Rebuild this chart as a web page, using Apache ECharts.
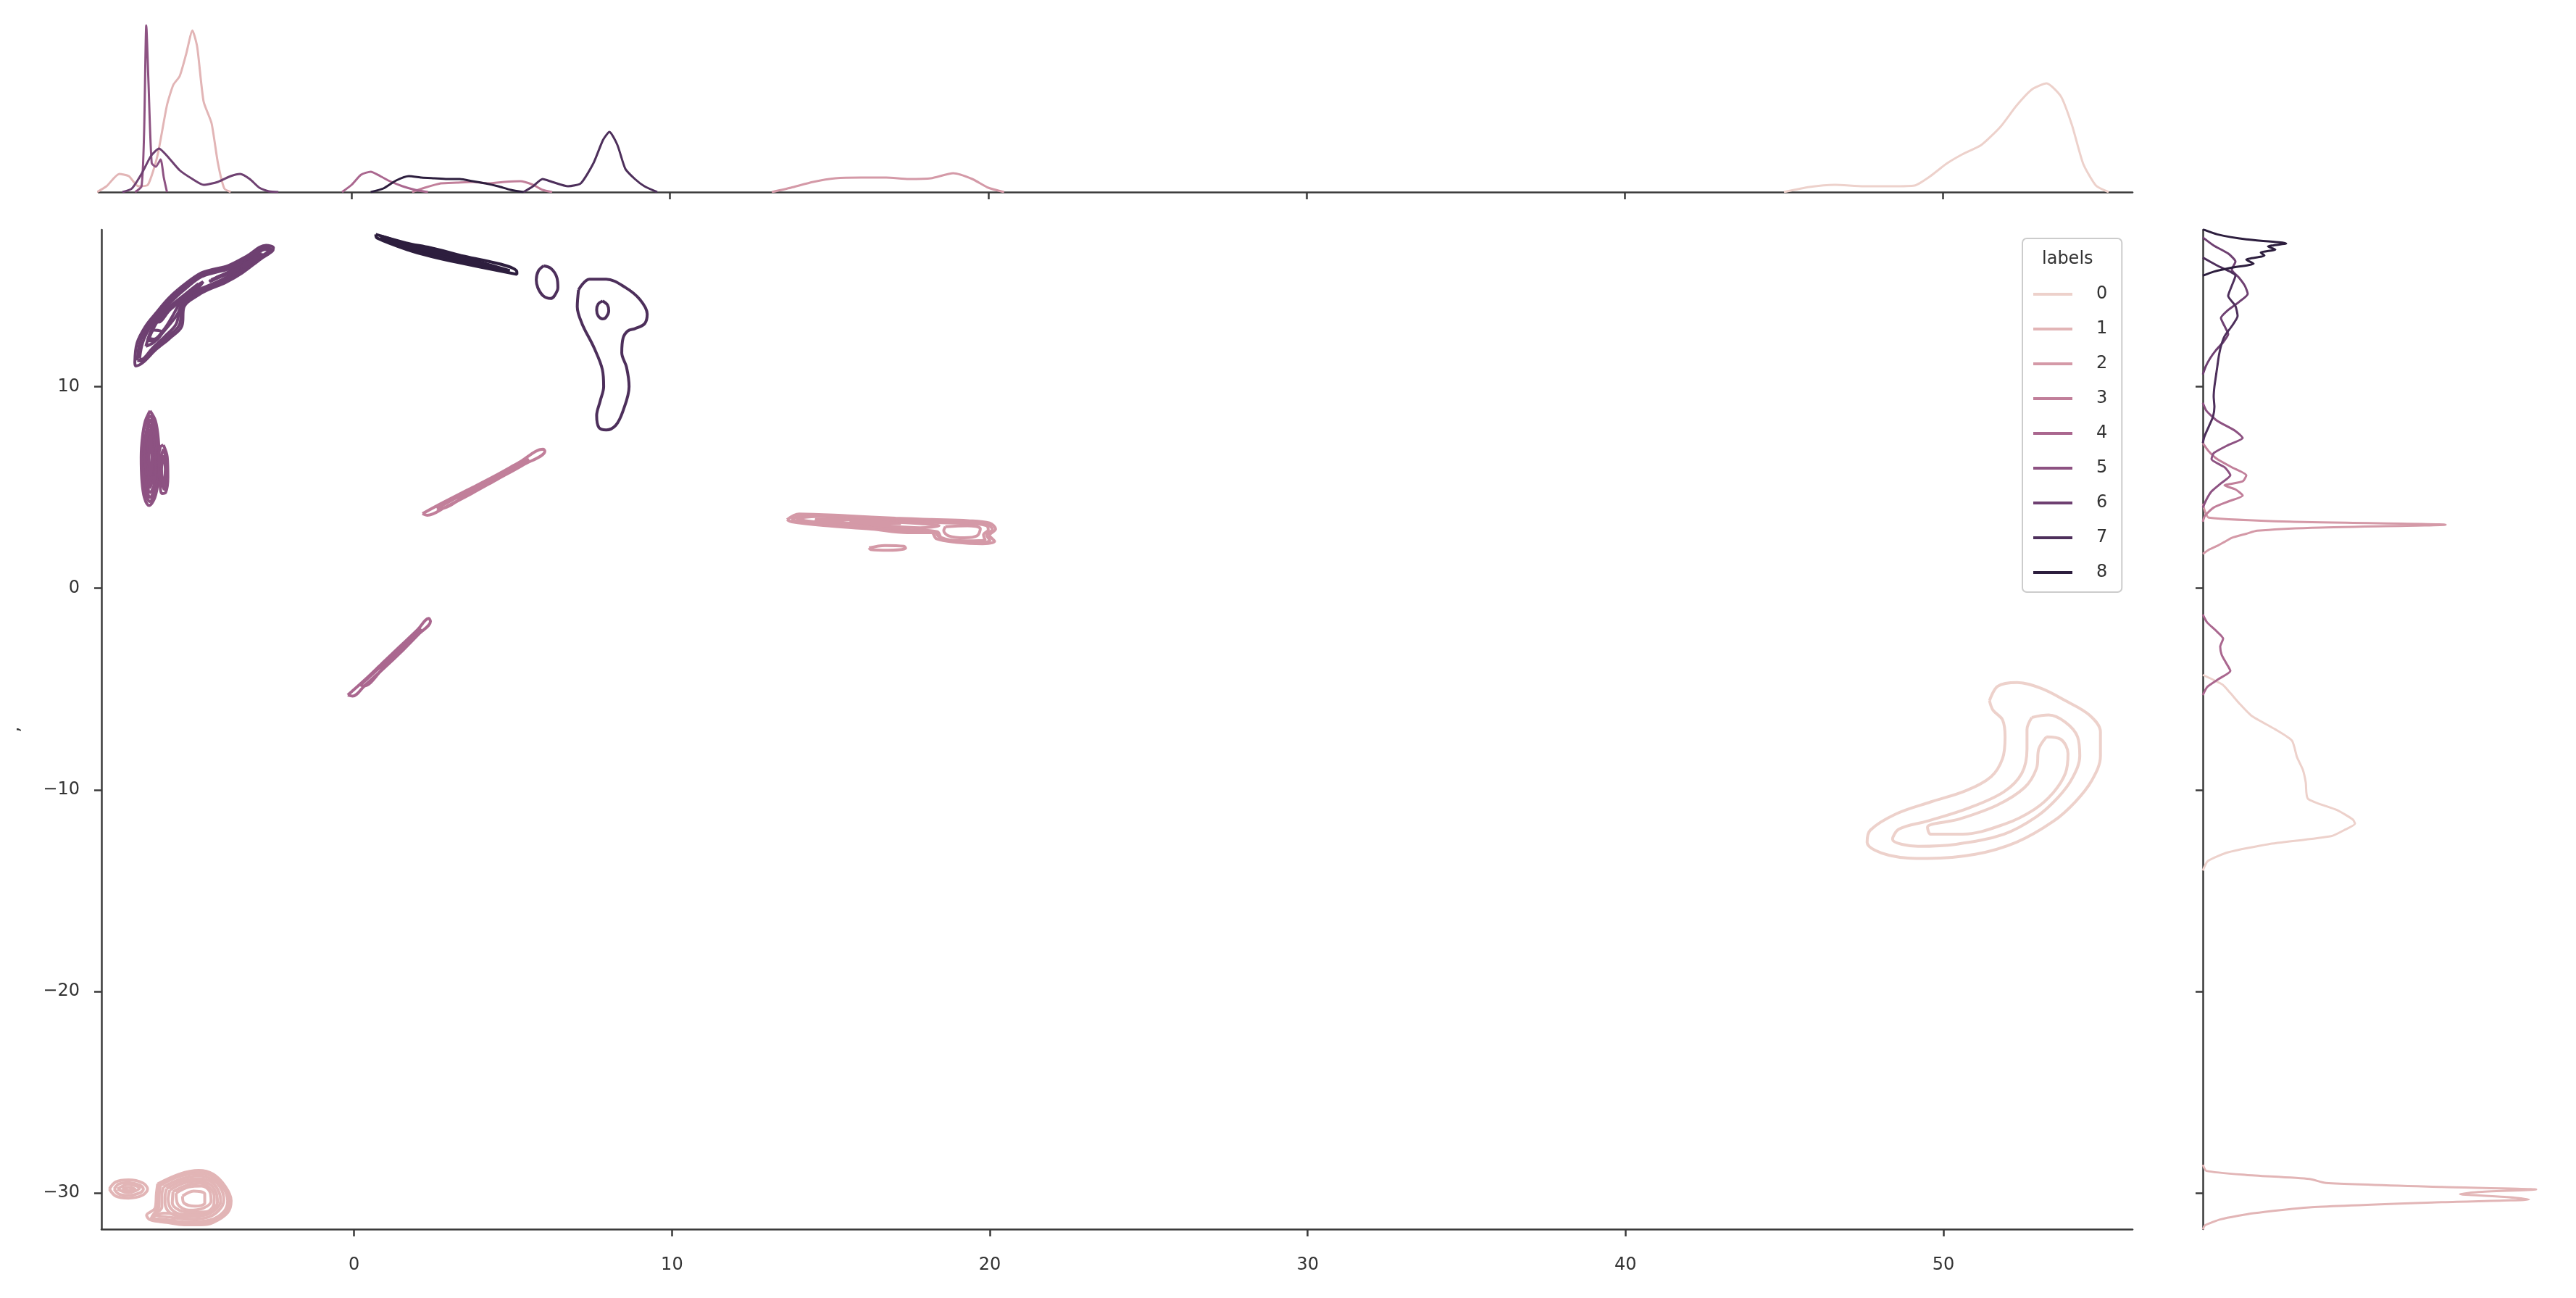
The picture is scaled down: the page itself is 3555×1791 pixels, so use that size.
<!DOCTYPE html>
<html>
<head>
<meta charset="utf-8">
<script src="https://cdn.jsdelivr.net/npm/echarts@6/dist/echarts.min.js"></script>
<style>
  html, body { margin: 0; padding: 0; background: #ffffff; }
  #chart { width: 3555px; height: 1791px; }
</style>
</head>
<body>
<div id="chart"></div>
<script>
// ---------------- DATA ----------------
const labels = ['0', '1', '2', '3', '4', '5', '6', '7', '8'];
const xTickValues = [0, 10, 20, 30, 40, 50];
const yTickValues = [-30, -20, -10, 0, 10];
const xRange = [-7.95, 55.95];
const yRange = [-31.79, 17.78];

// KDE contour rings (x, y) per label
const contours0 = [
  [[51.45,-5.58],[51.71,-4.86],[52.32,-4.68],[53.08,-4.97],[53.84,-5.58],[54.59,-6.29],[54.94,-7.13],[54.94,-8.33],[54.67,-9.53],[54.14,-10.61],[53.46,-11.56],[52.3,-12.6],[51.0,-13.2],[49.5,-13.4],[48.3,-13.25],[47.6,-12.6],[47.7,-12.0],[48.5,-11.2],[49.6,-10.6],[50.7,-10.05],[51.5,-9.35],[51.86,-8.45],[51.94,-7.37],[51.86,-6.53],[51.56,-6.05]],
  [[52.78,-6.41],[53.31,-6.29],[53.84,-6.65],[54.22,-7.37],[54.29,-8.33],[54.06,-9.41],[53.61,-10.37],[52.93,-11.33],[51.9,-12.2],[50.4,-12.7],[49.2,-12.8],[48.4,-12.45],[48.6,-11.95],[49.5,-11.55],[50.8,-10.9],[51.9,-10.1],[52.47,-9.17],[52.63,-7.97],[52.63,-7.01]],
  [[53.24,-7.37],[53.69,-7.49],[53.92,-8.21],[53.84,-9.17],[53.46,-10.13],[52.86,-10.97],[51.94,-11.69],[50.6,-12.2],[49.6,-12.2],[49.5,-11.85],[50.5,-11.45],[51.7,-10.75],[52.55,-9.89],[52.93,-8.93],[53.00,-7.97]]
];
const contours1 = [
  [[-6.18,-29.54],[-5.50,-29.06],[-4.89,-28.88],[-4.44,-29.06],[-4.06,-29.66],[-3.87,-30.38],[-3.98,-30.97],[-4.44,-31.46],[-4.82,-31.57],[-5.35,-31.57],[-5.88,-31.46],[-6.41,-31.33],[-6.53,-31.10],[-6.26,-30.74],[-6.22,-30.02]],
  [[-6.14,-29.58],[-5.5,-29.12],[-4.9,-28.95],[-4.45,-29.12],[-4.1,-29.68],[-3.93,-30.37],[-4.04,-30.95],[-4.48,-31.4],[-5.3,-31.5],[-5.87,-31.4],[-6.38,-31.25],[-6.2,-30.73],[-6.18,-30.03]],
  [[-6.1,-29.62],[-5.5,-29.18],[-4.9,-29.02],[-4.47,-29.18],[-4.13,-29.7],[-3.98,-30.37],[-4.1,-30.92],[-4.52,-31.33],[-5.27,-31.44],[-5.85,-31.33],[-6.35,-31.18],[-6.15,-30.72],[-6.13,-30.05]],
  [[-6.0,-29.7],[-5.45,-29.3],[-4.9,-29.15],[-4.5,-29.3],[-4.2,-29.75],[-4.1,-30.35],[-4.25,-30.85],[-4.6,-31.2],[-5.2,-31.3],[-5.8,-31.2],[-6.25,-31.05],[-6.05,-30.7],[-6.05,-30.1]],
  [[-5.9,-29.78],[-5.4,-29.4],[-4.9,-29.28],[-4.52,-29.42],[-4.28,-29.85],[-4.2,-30.4],[-4.38,-30.85],[-4.75,-31.12],[-5.3,-31.18],[-5.78,-31.0],[-5.95,-30.5],[-5.95,-30.2]],
  [[-5.8,-29.85],[-5.35,-29.5],[-4.9,-29.4],[-4.55,-29.55],[-4.35,-29.95],[-4.3,-30.45],[-4.5,-30.85],[-4.9,-31.05],[-5.4,-31.05],[-5.75,-30.8],[-5.85,-30.3]],
  [[-5.7,-29.93],[-5.25,-29.6],[-4.85,-29.52],[-4.55,-29.72],[-4.4,-30.2],[-4.42,-30.6],[-4.65,-30.93],[-5.1,-30.95],[-5.5,-30.85],[-5.72,-30.5]],
  [[-5.6,-30.0],[-5.2,-29.7],[-4.8,-29.65],[-4.55,-29.9],[-4.5,-30.4],[-4.75,-30.75],[-5.2,-30.85],[-5.55,-30.55]],
  [[-5.4,-30.15],[-5.05,-29.9],[-4.7,-30.05],[-4.7,-30.5],[-5.0,-30.65],[-5.35,-30.5]],
  [[-6.35,-31.2],[-6.0,-31.0],[-5.6,-31.1],[-5.7,-31.35],[-6.1,-31.4]],
  [[-7.7,-29.8],[-7.5,-29.45],[-7.1,-29.35],[-6.65,-29.5],[-6.5,-29.8],[-6.65,-30.1],[-7.1,-30.25],[-7.5,-30.15]],
  [[-7.55,-29.8],[-7.4,-29.55],[-7.1,-29.48],[-6.75,-29.6],[-6.63,-29.8],[-6.75,-30.0],[-7.1,-30.12],[-7.4,-30.05]],
  [[-7.45,-29.8],[-7.1,-29.58],[-6.75,-29.75],[-7.1,-29.98]],
  [[-7.3,-29.8],[-7.1,-29.72],[-6.9,-29.8],[-7.1,-29.88]]
];
const contours2 = [
  [[13.62,3.40],[14.0,3.68],[15.52,3.59],[17.03,3.47],[18.17,3.41],[19.31,3.35],[19.99,3.23],[20.18,2.93],[19.99,2.63],[20.15,2.33],[19.77,2.21],[18.93,2.28],[18.32,2.45],[18.17,2.75],[17.41,2.75],[16.28,2.93],[14.76,3.11],[13.77,3.29]],
  [[13.75,3.43],[14.2,3.62],[15.5,3.55],[16.8,3.44],[18.0,3.37],[19.3,3.28],[19.9,3.17],[20.08,2.92],[19.9,2.64],[20.0,2.37],[19.55,2.28],[18.9,2.33],[18.4,2.55],[18.25,2.78],[17.45,2.83],[16.3,2.99],[14.9,3.16],[13.95,3.32]],
  [[13.9,3.45],[14.5,3.55],[15.5,3.5],[16.5,3.4],[17.5,3.32],[18.5,3.25],[19.5,3.2],[19.9,3.1],[19.95,2.9],[19.8,2.65],[19.85,2.4],[19.3,2.35],[18.5,2.45],[18.35,2.8],[17.5,2.9],[16.3,3.05],[15.0,3.2],[14.2,3.35]],
  [[14.5,3.42],[15.5,3.4],[16.7,3.3],[17.8,3.2],[18.4,3.1],[17.8,3.0],[16.5,3.12],[15.3,3.27],[14.6,3.35]],
  [[18.6,3.05],[19.3,3.1],[19.7,2.95],[19.6,2.6],[19.2,2.5],[18.7,2.6],[18.55,2.85]],
  [[15.6,3.35],[16.4,3.3],[17.2,3.2],[16.4,3.2],[15.7,3.28]],
  [[16.2,2.0],[16.7,2.12],[17.3,2.08],[17.35,1.98],[16.8,1.88],[16.25,1.92]]
];
const contours3 = [
  [[2.15,3.7],[2.8,4.25],[3.6,4.9],[4.4,5.55],[5.2,6.25],[5.95,6.9],[6.0,6.8],[5.3,6.1],[4.5,5.4],[3.7,4.7],[2.9,4.05],[2.3,3.62]],
  [[2.6,3.95],[3.6,4.8],[4.6,5.6],[5.5,6.4],[4.6,5.5],[3.6,4.7],[2.7,3.95]]
];
const contours4 = [
  [[-0.2,-5.3],[0.3,-4.6],[0.9,-3.7],[1.5,-2.8],[2.0,-2.05],[2.35,-1.5],[2.4,-1.65],[2.05,-2.25],[1.55,-3.05],[0.95,-3.95],[0.35,-4.8],[-0.05,-5.35]],
  [[0.2,-4.8],[0.9,-3.8],[1.6,-2.75],[2.1,-2.0],[1.65,-2.85],[0.95,-3.9],[0.3,-4.85]]
];
const contours5 = [
  [[-6.42,8.8],[-6.25,8.3],[-6.16,7.4],[-6.14,6.4],[-6.17,5.3],[-6.27,4.5],[-6.45,4.1],[-6.6,4.5],[-6.68,5.4],[-6.7,6.5],[-6.66,7.5],[-6.57,8.3]],
  [[-6.42,8.6],[-6.27,8.05],[-6.19,7.0],[-6.2,5.8],[-6.26,4.8],[-6.43,4.3],[-6.58,4.85],[-6.65,5.9],[-6.66,7.0],[-6.61,7.9]],
  [[-6.42,8.4],[-6.3,7.8],[-6.22,6.6],[-6.25,5.2],[-6.42,4.5],[-6.57,5.2],[-6.62,6.4],[-6.56,7.6]],
  [[-6.42,8.15],[-6.31,7.4],[-6.27,6.2],[-6.3,5.1],[-6.42,4.75],[-6.53,5.5],[-6.58,6.7],[-6.54,7.6]],
  [[-6.42,7.9],[-6.33,7.0],[-6.32,5.8],[-6.42,5.0],[-6.5,5.8],[-6.53,7.0]],
  [[-6.41,7.6],[-6.35,6.8],[-6.36,5.9],[-6.42,5.3],[-6.48,6.0],[-6.49,6.9]],
  [[-6.4,7.3],[-6.36,6.5],[-6.4,5.6],[-6.46,6.5]],
  [[-6.0,7.1],[-5.88,6.5],[-5.86,5.5],[-5.93,4.75],[-6.05,4.7],[-6.12,5.5],[-6.14,6.5],[-6.1,7.0]],
  [[-6.0,6.9],[-5.91,6.3],[-5.9,5.4],[-5.97,4.9],[-6.07,5.4],[-6.1,6.3]],
  [[-6.0,6.6],[-5.94,5.9],[-6.0,5.1],[-6.06,5.9]]
];
const contours6 = [
  [[-6.90,11.20],[-6.83,12.16],[-6.56,13.00],[-6.26,13.60],[-5.80,14.44],[-5.27,15.15],[-4.82,15.63],[-4.44,15.81],[-3.98,15.99],[-3.38,16.47],[-2.77,17.01],[-2.54,16.89],[-2.58,16.71],[-2.92,16.35],[-3.53,15.63],[-4.06,15.15],[-4.51,14.86],[-4.89,14.55],[-5.35,13.96],[-5.42,13.00],[-5.80,12.40],[-6.26,11.80],[-6.64,11.20],[-6.87,11.02]],
  [[-6.82,11.3],[-6.74,12.18],[-6.48,13.0],[-6.18,13.6],[-5.75,14.37],[-5.24,15.07],[-4.81,15.54],[-4.42,15.73],[-3.94,15.92],[-3.34,16.38],[-2.78,16.9],[-2.62,16.82],[-2.96,16.38],[-3.56,15.72],[-4.08,15.25],[-4.55,14.93],[-4.95,14.62],[-5.4,13.98],[-5.5,13.05],[-5.88,12.45],[-6.3,11.85],[-6.68,11.27]],
  [[-6.75,11.4],[-6.65,12.2],[-6.4,13.0],[-6.1,13.6],[-5.7,14.3],[-5.2,15.0],[-4.8,15.45],[-4.4,15.65],[-3.9,15.85],[-3.3,16.3],[-2.8,16.8],[-2.7,16.75],[-3.0,16.4],[-3.6,15.8],[-4.1,15.35],[-4.6,15.0],[-5.0,14.7],[-5.45,14.0],[-5.6,13.1],[-5.95,12.5],[-6.35,11.9],[-6.7,11.35]],
  [[-6.55,12.0],[-6.35,12.9],[-6.0,13.6],[-5.5,14.3],[-5.0,14.95],[-4.75,15.2],[-4.9,14.9],[-5.3,14.3],[-5.6,13.5],[-5.9,12.9],[-6.3,12.2]],
  [[-6.45,12.4],[-6.2,13.2],[-5.8,13.9],[-5.3,14.6],[-4.9,15.1],[-5.1,14.7],[-5.45,14.2],[-5.75,13.4],[-6.0,12.8],[-6.3,12.35]],
  [[-4.5,15.3],[-4.0,15.65],[-3.4,16.1],[-2.9,16.6],[-3.1,16.45],[-3.7,15.85],[-4.2,15.45],[-4.55,15.2]],
  [[-4.3,15.45],[-3.8,15.75],[-3.2,16.2],[-2.85,16.55],[-3.25,16.25],[-3.85,15.7],[-4.35,15.38]],
  [[-6.2,13.4],[-5.7,14.1],[-5.2,14.7],[-5.3,14.45],[-5.8,13.8],[-6.15,13.2]],
  [[-6.5,12.3],[-6.3,12.8],[-6.05,12.7],[-6.3,12.25]],
  [[-4.1,15.55],[-3.6,15.9],[-3.7,15.78],[-4.15,15.48]]
];
const contours7 = [
  [[7.06,14.80],[7.40,15.33],[7.93,15.33],[8.54,14.91],[8.99,14.32],[9.22,13.60],[9.14,13.12],[8.84,12.88],[8.61,12.76],[8.46,12.40],[8.42,11.68],[8.57,10.96],[8.65,10.00],[8.46,8.80],[8.23,8.08],[7.93,7.85],[7.70,7.97],[7.63,8.57],[7.74,9.28],[7.85,10.00],[7.81,10.84],[7.55,11.92],[7.17,13.12],[7.02,13.96]],
  [[5.96,15.99],[6.2,15.85],[6.38,15.4],[6.41,14.9],[6.3,14.5],[6.18,14.37],[5.95,14.5],[5.78,14.9],[5.73,15.3],[5.8,15.75]],
  [[7.82,14.25],[7.97,14.05],[8.01,13.75],[7.93,13.45],[7.82,13.36],[7.68,13.5],[7.63,13.8],[7.68,14.1]]
];
const contours8 = [
  [[0.68,17.55],[1.63,17.13],[2.39,16.89],[3.15,16.59],[5.12,15.69],[5.12,15.57],[3.23,16.17],[2.39,16.47],[1.71,16.77],[0.72,17.37]],
  [[0.85,17.47],[1.7,17.06],[2.45,16.85],[3.2,16.52],[4.9,15.75],[3.25,16.23],[2.45,16.53],[1.75,16.82],[0.9,17.33]],
  [[1.0,17.4],[1.8,17.0],[2.5,16.8],[3.3,16.45],[4.6,15.85],[3.3,16.3],[2.5,16.6],[1.8,16.88],[1.05,17.3]],
  [[1.5,17.1],[2.2,16.85],[2.9,16.62],[3.5,16.35],[2.9,16.5],[2.2,16.72],[1.55,17.0]],
  [[2.0,16.95],[2.7,16.72],[3.3,16.5],[2.7,16.62],[2.0,16.85]]
];

// Marginal KDE along x: [x, density]
const topKde0 = [[45.0,0],[45.8,0.007],[46.6,0.010],[47.5,0.008],[48.4,0.008],[49.1,0.009],[49.6,0.022],[50.1,0.039],[50.6,0.052],[51.2,0.065],[51.8,0.090],[52.3,0.119],[52.8,0.142],[53.25,0.150],[53.7,0.132],[54.05,0.092],[54.4,0.039],[54.8,0.009],[55.2,0]];
const topKde1 = [[-8.0,0],[-7.7,0.008],[-7.3,0.025],[-7.0,0.022],[-6.7,0.008],[-6.4,0.010],[-6.1,0.050],[-5.8,0.120],[-5.6,0.148],[-5.4,0.160],[-5.2,0.190],[-5.0,0.223],[-4.85,0.200],[-4.65,0.125],[-4.4,0.095],[-4.2,0.040],[-4.0,0.005],[-3.8,0]];
const topKde2 = [[13.2,0],[13.8,0.006],[14.5,0.014],[15.2,0.019],[16.0,0.020],[16.8,0.020],[17.5,0.018],[18.2,0.019],[18.9,0.026],[19.5,0.018],[20.0,0.006],[20.5,0]];
const topKde3 = [[1.9,0],[2.3,0.006],[2.8,0.012],[3.3,0.013],[3.8,0.014],[4.3,0.012],[4.8,0.014],[5.3,0.015],[5.7,0.010],[6.0,0.003],[6.3,0]];
const topKde4 = [[-0.3,0],[0.0,0.010],[0.3,0.024],[0.6,0.028],[0.9,0.022],[1.2,0.015],[1.6,0.008],[2.0,0.003],[2.4,0]];
const topKde5 = [[-6.8,0],[-6.6,0.008],[-6.52,0.080],[-6.45,0.230],[-6.38,0.150],[-6.28,0.040],[-6.15,0.035],[-6.0,0.045],[-5.9,0.020],[-5.8,0]];
const topKde6 = [[-7.2,0],[-6.9,0.005],[-6.6,0.025],[-6.3,0.050],[-6.05,0.060],[-5.8,0.050],[-5.4,0.030],[-5.0,0.018],[-4.65,0.010],[-4.2,0.014],[-3.8,0.022],[-3.5,0.025],[-3.2,0.018],[-2.9,0.006],[-2.6,0.001],[-2.3,0]];
const topKde7 = [[5.4,0],[5.7,0.008],[6.0,0.018],[6.3,0.014],[6.8,0.008],[7.2,0.012],[7.6,0.040],[7.9,0.072],[8.1,0.083],[8.35,0.065],[8.6,0.032],[8.9,0.018],[9.2,0.008],[9.6,0]];
const topKde8 = [[0.6,0],[1.0,0.005],[1.4,0.016],[1.8,0.022],[2.2,0.020],[2.6,0.019],[3.0,0.018],[3.4,0.018],[3.8,0.015],[4.2,0.012],[4.6,0.008],[5.0,0.003],[5.4,0]];

// Marginal KDE along y: [density, y]
const rightKde0 = [[0,-4.3],[0.027,-4.78],[0.038,-5.2],[0.050,-5.7],[0.067,-6.32],[0.100,-7.0],[0.123,-7.56],[0.130,-8.38],[0.138,-9.0],[0.142,-9.62],[0.145,-10.44],[0.185,-11.0],[0.207,-11.47],[0.210,-11.68],[0.195,-12.0],[0.177,-12.3],[0.090,-12.7],[0.035,-13.1],[0.007,-13.53],[0,-14.0]];
const rightKde1 = [[0,-28.6],[0.005,-28.9],[0.060,-29.1],[0.147,-29.3],[0.170,-29.5],[0.330,-29.7],[0.460,-29.82],[0.380,-29.95],[0.355,-30.05],[0.420,-30.2],[0.450,-30.32],[0.330,-30.45],[0.150,-30.7],[0.070,-31.0],[0.025,-31.3],[0.003,-31.6],[0,-31.8]];
const rightKde2 = [[0,4.2],[0.003,3.8],[0.008,3.5],[0.120,3.3],[0.335,3.15],[0.150,3.0],[0.075,2.85],[0.060,2.7],[0.040,2.5],[0.030,2.3],[0.020,2.1],[0.008,1.9],[0,1.7]];
const rightKde3 = [[0,7.2],[0.008,6.8],[0.020,6.4],[0.040,6.0],[0.060,5.6],[0.055,5.3],[0.030,5.1],[0.045,4.9],[0.055,4.6],[0.035,4.3],[0.015,4.0],[0.003,3.6],[0,3.3]];
const rightKde4 = [[0,-1.3],[0.006,-1.7],[0.018,-2.1],[0.028,-2.5],[0.024,-2.9],[0.026,-3.3],[0.032,-3.7],[0.038,-4.1],[0.022,-4.5],[0.006,-4.9],[0,-5.3]];
const rightKde5 = [[0,9.2],[0.005,8.8],[0.020,8.3],[0.045,7.8],[0.055,7.45],[0.035,7.1],[0.015,6.7],[0.012,6.4],[0.030,6.0],[0.038,5.6],[0.025,5.2],[0.012,4.8],[0.005,4.4],[0,4.0]];
const rightKde6 = [[0,17.4],[0.015,17.0],[0.035,16.6],[0.045,16.2],[0.040,15.8],[0.050,15.4],[0.058,15.0],[0.062,14.6],[0.050,14.2],[0.035,13.8],[0.025,13.4],[0.030,13.0],[0.035,12.6],[0.028,12.2],[0.018,11.8],[0.010,11.4],[0.004,11.0],[0,10.6]];
const rightKde7 = [[0,16.4],[0.020,16.0],[0.045,15.5],[0.040,15.0],[0.035,14.5],[0.045,14.0],[0.048,13.5],[0.040,13.0],[0.030,12.5],[0.025,12.0],[0.022,11.5],[0.020,11.0],[0.018,10.5],[0.016,10.0],[0.015,9.5],[0.016,9.0],[0.014,8.5],[0.008,8.0],[0.002,7.5],[0,7.2]];
const rightKde8 = [[0,17.8],[0.020,17.55],[0.060,17.3],[0.115,17.1],[0.090,16.95],[0.100,16.8],[0.080,16.65],[0.085,16.5],[0.060,16.3],[0.070,16.1],[0.040,15.9],[0.015,15.7],[0,15.5]];

// ---------------- STYLE ----------------
const colors = ['#edd1cb','#e2b5b6','#d499a7','#c17f9a','#aa678f','#8d5282','#6e4071','#4d2f5b','#2d1e3e'];
const allContours = [contours0, contours1, contours2, contours3, contours4, contours5, contours6, contours7, contours8];
const allTop = [topKde0, topKde1, topKde2, topKde3, topKde4, topKde5, topKde6, topKde7, topKde8];
const allRight = [rightKde0, rightKde1, rightKde2, rightKde3, rightKde4, rightKde5, rightKde6, rightKde7, rightKde8];

const FONT = 'DejaVu Sans';
const AX = '#3a3a3a';
const minus = v => String(v).replace('-', '\u2212');

const series = [];
labels.forEach((lab, i) => {
  allContours[i].forEach(ring => {
    series.push({
      name: lab, type: 'line', xAxisIndex: 0, yAxisIndex: 0,
      data: ring.concat([ring[0]]),
      showSymbol: false, symbol: 'none', smooth: 0.35, silent: true,
      lineStyle: { color: colors[i], width: 4 }, itemStyle: { color: colors[i] }
    });
  });
  series.push({
    name: lab, type: 'line', xAxisIndex: 1, yAxisIndex: 1,
    data: allTop[i], showSymbol: false, symbol: 'none', smooth: 0.2, silent: true,
    lineStyle: { color: colors[i], width: 3 }, itemStyle: { color: colors[i] }
  });
  series.push({
    name: lab, type: 'line', xAxisIndex: 2, yAxisIndex: 2,
    data: allRight[i], showSymbol: false, symbol: 'none', smooth: 0.2, silent: true,
    lineStyle: { color: colors[i], width: 3 }, itemStyle: { color: colors[i] }
  });
});

const axisLineStyle = { show: true, onZero: false, lineStyle: { color: AX, width: 2.5 } };
const tickStyle = (vals) => ({ show: true, length: 10, lineStyle: { color: AX, width: 2.5 }, customValues: vals });

const option = {
  animation: false,
  backgroundColor: '#ffffff',
  title: {
    text: 'labels', left: 2813, top: 341,
    textStyle: { fontFamily: FONT, fontSize: 24, fontWeight: 'normal', color: '#333' }
  },
  legend: {
    data: labels, orient: 'vertical', left: 2791, top: 329,
    padding: [62, 20, 12, 15], itemGap: 18, itemWidth: 54, itemHeight: 4,
    icon: 'rect', selectedMode: false,
    borderColor: '#cccccc', borderWidth: 2, borderRadius: 6, backgroundColor: 'rgba(255,255,255,0.8)',
    textStyle: { fontFamily: FONT, fontSize: 24, color: '#333', lineHeight: 30, padding: [0, 0, 0, 28] }
  },
  grid: [
    { left: 136, top: 317, width: 2807, height: 1379 },
    { left: 136, top: 23, width: 2807, height: 242 },
    { left: 3040, top: 317, width: 485, height: 1379 }
  ],
  xAxis: [
    { gridIndex: 0, type: 'value', min: xRange[0], max: xRange[1],
      axisLine: axisLineStyle, axisTick: tickStyle(xTickValues), splitLine: { show: false },
      axisLabel: { show: true, customValues: xTickValues, margin: 38, fontFamily: FONT, fontSize: 24, color: '#333', formatter: minus } },
    { gridIndex: 1, type: 'value', min: xRange[0], max: xRange[1],
      axisLine: axisLineStyle, axisTick: tickStyle(xTickValues), splitLine: { show: false },
      axisLabel: { show: false } },
    { gridIndex: 2, type: 'value', min: 0, max: 0.485, show: false, splitLine: { show: false } }
  ],
  yAxis: [
    { gridIndex: 0, type: 'value', min: yRange[0], max: yRange[1],
      name: ',', nameLocation: 'middle', nameGap: 108, nameRotate: 90,
      nameTextStyle: { fontFamily: FONT, fontSize: 24, color: '#333' },
      axisLine: axisLineStyle, axisTick: tickStyle(yTickValues), splitLine: { show: false },
      axisLabel: { show: true, customValues: yTickValues, margin: 30, fontFamily: FONT, fontSize: 24, color: '#333', formatter: minus } },
    { gridIndex: 1, type: 'value', min: 0, max: 0.242, show: false, splitLine: { show: false } },
    { gridIndex: 2, type: 'value', min: yRange[0], max: yRange[1],
      axisLine: axisLineStyle, axisTick: tickStyle(yTickValues), splitLine: { show: false },
      axisLabel: { show: false } }
  ],
  series: series
};

const chart = echarts.init(document.getElementById('chart'), null, { renderer: 'canvas' });
chart.setOption(option);
</script>
</body>
</html>
